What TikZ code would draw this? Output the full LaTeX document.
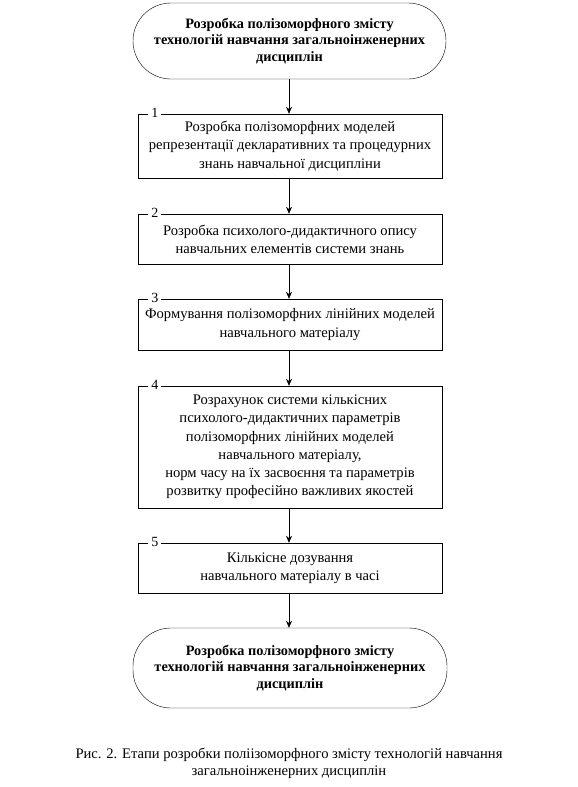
\documentclass[tikz,border=0pt]{standalone}
\usepackage{fontspec}
\setmainfont{Liberation Serif}
\usetikzlibrary{arrows.meta}
\begin{document}
\begin{tikzpicture}[x=1pt,y=-1pt,
  term/.style={draw,rounded corners=38pt,align=center,font=\fontsize{14.3}{16.5}\selectfont\bfseries,inner sep=0pt},
  stepbox/.style={draw,align=center,minimum width=304pt,font=\fontsize{14.6}{18.2}\selectfont,inner sep=0pt},
  num/.style={fill=white,inner xsep=3pt,inner ysep=0pt,font=\fontsize{14}{15}\selectfont},
  arr/.style={-{Stealth[length=7pt,width=6pt]},line width=0.6pt}]
\useasboundingbox (0,0) rectangle (578,787);
\node[term,minimum width=313pt,minimum height=76pt] (t0) at (289.5,41) {Розробка полізоморфного змісту\\технологій навчання загальноінженерних\\дисциплін};
\node[stepbox,minimum height=64pt] (b1) at (290,146) {Розробка полізоморфних моделей\\репрезентації декларативних та процедурних\\знань навчальної дисципліни};
\node[stepbox,minimum height=50pt] (b2) at (290,239) {Розробка психолого-дидактичного опису\\навчальних елементів системи знань};
\node[stepbox,minimum height=51pt] (b3) at (290,324.5) {Формування полізоморфних лінійних моделей\\навчального матеріалу};
\node[stepbox,minimum height=122pt] (b4) at (290,447) {Розрахунок системи кількісних\\психолого-дидактичних параметрів\\полізоморфних лінійних моделей\\навчального матеріалу,\\норм часу на їх засвоєння та параметрів\\розвитку професійно важливих якостей};
\node[stepbox,minimum height=50pt] (b5) at (290,568) {Кількісне дозування\\навчального матеріалу в часі};
\node[term,minimum width=314pt,minimum height=80pt] (t1) at (290,668) {Розробка полізоморфного змісту\\технологій навчання загальноінженерних\\дисциплін};
\node[num] (n1) at ([xshift=17pt,yshift=1pt]b1.north west) {1};
\node[num] (n2) at ([xshift=17pt,yshift=1pt]b2.north west) {2};
\node[num] (n3) at ([xshift=17pt,yshift=1pt]b3.north west) {3};
\node[num] (n4) at ([xshift=17pt,yshift=1pt]b4.north west) {4};
\node[num] (n5) at ([xshift=17pt,yshift=1pt]b5.north west) {5};
\draw[arr] (t0.south -| 289,0) -- (b1.north -| 289,0);
\draw[arr] (b1.south -| 289,0) -- (b2.north -| 289,0);
\draw[arr] (b2.south -| 289,0) -- (b3.north -| 289,0);
\draw[arr] (b3.south -| 289,0) -- (b4.north -| 289,0);
\draw[arr] (b4.south -| 289,0) -- (b5.north -| 289,0);
\draw[arr] (b5.south -| 289,0) -- (t1.north -| 289,0);
\node[align=center,font=\fontsize{14.6}{17}\selectfont] (cap) at (289,763) {Рис. 2. Етапи розробки поліізоморфного змісту технологій навчання\\загальноінженерних дисциплін};
\end{tikzpicture}
\end{document}
